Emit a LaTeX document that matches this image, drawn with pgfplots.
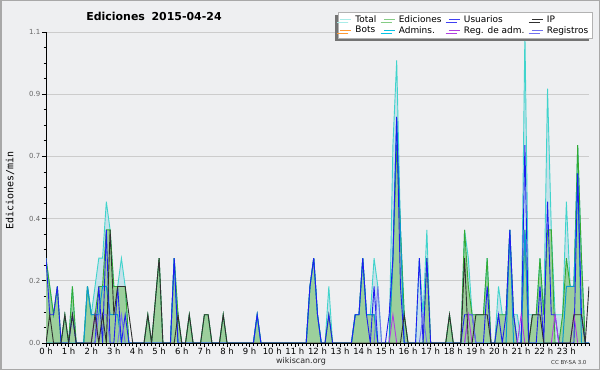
\documentclass[border=0pt]{standalone}
\usepackage{fontspec}
\setmainfont{DejaVu Sans}
\newfontfamily\monofont{DejaVu Sans Mono}
\usepackage{pgfplots}
\usepackage{pgfplotstable}
\pgfplotsset{compat=1.18}
\usetikzlibrary{shadows}
\definecolor{bg}{HTML}{EEEFF1}
\definecolor{bordercol}{HTML}{A8A8A8}
\definecolor{gridcol}{HTML}{CCCCCC}
\definecolor{totline}{HTML}{40D4CC}
\definecolor{totfill}{HTML}{C6E1EA}
\definecolor{edline}{HTML}{33AA33}
\definecolor{edfill}{HTML}{9CCF9C}
\definecolor{usline}{HTML}{1E1EF0}
\definecolor{ipline}{HTML}{303030}
\definecolor{adline}{HTML}{0A9AD0}
\definecolor{regline}{HTML}{B040E0}
\definecolor{logline}{HTML}{7070F0}
\definecolor{botline}{HTML}{FF9933}

\pgfplotstableread[row sep=\\]{
x y\\ 0 0.3\\ 1 0.2\\ 2 0.1\\ 3 0.2\\ 4 0\\ 5 0.1\\ 6 0\\ 7 0.2\\ 8 0\\ 10 0\\ 11 0.2\\ 12 0.1\\ 13 0.1\\ 14 0.2\\ 15 0.2\\ 16 0.4\\ 17 0.4\\ 18 0.2\\ 19 0.2\\ 20 0.2\\ 21 0.2\\ 22 0\\ 26 0\\ 27 0.1\\ 28 0\\ 29 0.15\\ 30 0.3\\ 31 0\\ 33 0\\ 34 0.3\\ 35 0.1\\ 36 0\\ 37 0\\ 38 0.1\\ 39 0\\ 41 0\\ 42 0.1\\ 43 0.1\\ 44 0\\ 46 0\\ 47 0.1\\ 48 0\\ 55 0\\ 56 0.1\\ 57 0\\ 69 0\\ 70 0.2\\ 71 0.3\\ 72 0.1\\ 73 0\\ 74 0\\ 75 0.1\\ 76 0\\ 81 0\\ 82 0.1\\ 83 0.1\\ 84 0.3\\ 85 0.1\\ 86 0.1\\ 87 0.1\\ 88 0\\ 91 0\\ 92 0.3\\ 93 0.7\\ 94 0.4\\ 95 0.1\\ 96 0\\ 100 0\\ 101 0.3\\ 102 0\\ 106 0\\ 107 0.1\\ 108 0\\ 110 0\\ 111 0.4\\ 112 0.2\\ 113 0.1\\ 114 0.1\\ 115 0.1\\ 116 0.1\\ 117 0.3\\ 118 0\\ 119 0\\ 120 0.1\\ 121 0.1\\ 122 0.1\\ 123 0.4\\ 124 0.1\\ 125 0\\ 126 0\\ 127 0.4\\ 128 0\\ 129 0.1\\ 130 0.1\\ 131 0.3\\ 132 0.1\\ 133 0.4\\ 134 0.4\\ 135 0\\ 136 0\\ 137 0.1\\ 138 0.3\\ 139 0.2\\ 140 0.2\\ 141 0.7\\ 142 0.3\\ 143 0\\ 144 0\\
}\Edtab

\pgfplotstableread[row sep=\\]{
x y\\ 0 0.3\\ 1 0.2\\ 2 0.1\\ 3 0.2\\ 4 0\\ 5 0.1\\ 6 0\\ 7 0.2\\ 8 0\\ 10 0\\ 11 0.2\\ 12 0.1\\ 13 0.2\\ 14 0.3\\ 15 0.3\\ 16 0.5\\ 17 0.4\\ 18 0.2\\ 19 0.2\\ 20 0.3\\ 21 0.2\\ 22 0\\ 26 0\\ 27 0.1\\ 28 0\\ 29 0.15\\ 30 0.3\\ 31 0\\ 33 0\\ 34 0.3\\ 35 0.1\\ 36 0\\ 37 0\\ 38 0.1\\ 39 0\\ 41 0\\ 42 0.1\\ 43 0.1\\ 44 0\\ 46 0\\ 47 0.1\\ 48 0\\ 55 0\\ 56 0.1\\ 57 0\\ 69 0\\ 70 0.2\\ 71 0.3\\ 72 0.1\\ 73 0\\ 74 0\\ 75 0.2\\ 76 0\\ 81 0\\ 82 0.1\\ 83 0.1\\ 84 0.3\\ 85 0.1\\ 86 0.1\\ 87 0.3\\ 88 0.2\\ 89 0\\ 91 0\\ 92 0.7\\ 93 1.0\\ 94 0.4\\ 95 0.1\\ 96 0\\ 98 0\\ 99 0.3\\ 100 0.1\\ 101 0.4\\ 102 0\\ 106 0\\ 107 0.1\\ 108 0\\ 110 0\\ 111 0.4\\ 112 0.3\\ 113 0.1\\ 114 0.1\\ 115 0.1\\ 116 0.1\\ 117 0.3\\ 118 0\\ 119 0\\ 120 0.2\\ 121 0.1\\ 122 0.1\\ 123 0.4\\ 124 0.1\\ 125 0.1\\ 126 0\\ 127 1.1\\ 128 0.1\\ 129 0.1\\ 130 0.1\\ 131 0.3\\ 132 0.1\\ 133 0.9\\ 134 0.4\\ 135 0.1\\ 136 0.1\\ 137 0.1\\ 138 0.5\\ 139 0.2\\ 140 0.2\\ 141 0.7\\ 142 0.3\\ 143 0\\ 144 0\\
}\Tottab

\begin{document}
\begin{tikzpicture}[x=1bp,y=1bp]
\useasboundingbox (0,0) rectangle (600,370);
\fill[bg] (0,0) rectangle (600,370);
\draw[bordercol, line width=1.5bp] (0.75,0.75) rectangle (599.25,369.25);
\node[font=\bfseries\fontsize{11}{13}\selectfont] at (154,354) {Ediciones\hspace{0.6em}2015-04-24};
\node[font=\fontsize{8}{9}\selectfont, text=black!85] at (301,9) {wikiscan.org};
\node[font=\fontsize{5.5}{6}\selectfont, text=black!80, anchor=east] at (590,8) {CC BY-SA 3.0};
\begin{axis}[
  at={(46bp,27bp)}, anchor=south west,
  scale only axis, width=543bp, height=311bp,
  xmin=0, xmax=144, ymin=0, ymax=1.1,
  axis x line*=bottom, axis y line*=left,
  axis line style={-, black, line width=0.8bp},
  xtick={0,6,...,138},
  xticklabels={0 h,1 h,2 h,3 h,4 h,5 h,6 h,7 h,8 h,9 h,10 h,11 h,12 h,13 h,14 h,15 h,16 h,17 h,18 h,19 h,20 h,21 h,22 h,23 h},
  minor xtick={0,1,...,144},
  ytick={0,0.22,0.44,0.66,0.88,1.1},
  yticklabels={0.0,0.2,0.4,0.7,0.9,1.1},
  minor y tick num=3,
  ymajorgrids, major grid style={gridcol, line width=0.8bp},
  tick align=outside, major tick length=4bp, minor tick length=2.5bp,
  tick style={black, line width=0.7bp},
  xticklabel style={font=\fontsize{8.5}{9}\selectfont, inner sep=1bp},
  yticklabel style={font=\fontsize{7}{8}\selectfont, text=black!60, inner sep=1.5bp},
  ylabel={Ediciones/min},
  ylabel style={font=\monofont\fontsize{10}{11}\selectfont, at={(axis description cs:-0.066,0.49)}, anchor=center},
  legend columns=4,
  legend cell align=left,
  legend image code/.code={\draw[#1, line width=1bp] (0bp,0bp) -- (11bp,0bp);},
  legend style={at={(axis description cs:1.0055,1.065)}, anchor=north east,
    draw=gray!60, fill=white, font=\fontsize{9}{9}\selectfont,
    inner sep=1.5bp, row sep=-1.5bp,
    drop shadow={shadow xshift=-3bp, shadow yshift=-3bp, fill=black!55, opacity=1},
    /tikz/every odd column/.append style={column sep=1.5bp},
    /tikz/every even column/.append style={column sep=5bp}},
]
\addlegendimage{color=totline!45}
\addlegendimage{color=edline!60}
\addlegendimage{color=usline!85}
\addlegendimage{color=ipline}
\addlegendimage{color=botline}
\addlegendimage{color=adline!60!cyan}
\addlegendimage{color=regline}
\addlegendimage{color=logline}
\legend{Total,Ediciones,Usuarios,IP,Bots,Admins.,Reg. de adm.,Registros}

\addplot[forget plot, draw=none, fill=totfill] table[x=x,y=y] {\Tottab} \closedcycle;
\addplot[forget plot, draw=none, fill=edfill] table[x=x,y=y] {\Edtab} \closedcycle;
\addplot[forget plot, color=totline, line width=0.9bp] table[x=x,y=y] {\Tottab};
\addplot[forget plot, color=edline, line width=0.9bp] table[x=x,y=y] {\Edtab};
% Admins
\addplot[forget plot, color=adline, line width=1bp] coordinates {
(0,0)(10,0)(11,0.2)(12,0.1)(13,0.1)(14,0.1)(15,0.2)(16,0.2)(17,0.1)(18,0.1)(19,0.1)(20,0)
(33,0)(34,0.3)(35,0)(55,0)(56,0.1)(57,0)
(69,0)(70,0.2)(71,0.3)(72,0.1)(73,0)
(81,0)(82,0.1)(83,0.1)(84,0.3)(85,0.1)(86,0.1)(87,0.1)(88,0)
(91,0)(92,0.3)(93,0.8)(94,0.4)(95,0)
(122,0)(123,0.4)(124,0)(126,0)(127,0.4)(128,0)
(137,0)(138,0.2)(139,0.2)(140,0.2)(141,0.6)(142,0)(144,0)};
% Usuarios
\addplot[forget plot, color=usline, line width=0.9bp] coordinates {
(0,0.3)(1,0.1)(2,0.1)(3,0.2)(4,0)(6,0)(7,0.1)(8,0)
(13,0)(14,0.2)(15,0)(16,0.4)(17,0)(18,0)(19,0.2)(20,0)(21,0.1)(22,0)
(33,0)(34,0.3)(35,0)(55,0)(56,0.1)(57,0)
(69,0)(70,0.2)(71,0.3)(72,0.1)(73,0)(74,0)(75,0.1)(76,0)
(81,0)(82,0.1)(83,0.1)(84,0.3)(85,0.1)(86,0)(87,0.2)(88,0)
(90,0)(91,0.1)(92,0.3)(93,0.8)(94,0.2)(95,0)
(98,0)(99,0.3)(100,0)(101,0.3)(102,0)
(110,0)(111,0.1)(112,0.1)(113,0.1)(114,0)(116,0)(117,0.2)(118,0)
(119,0)(120,0.1)(121,0)(122,0.1)(123,0.4)(124,0.1)(125,0)(126,0)(127,0.7)(128,0)
(130,0)(131,0.2)(132,0)(133,0.5)(134,0.1)(135,0.1)(136,0)
(140,0)(141,0.6)(142,0.1)(143,0)(144,0)};
% Registros
\addplot[forget plot, color=logline, line width=0.9bp, unbounded coords=jump] coordinates {
(13,0)(14,0.1)(15,0.1)(16,0.1)(17,0)(18,nan)
(19,0)(20,0.1)(21,0)(22,nan)
(87,0)(88,0.2)(89,0)(90,nan)
(99,0)(100,0.1)(101,0)(102,nan)
(111,0)(112,0.1)(113,0.1)(114,0)};
% Reg. de adm.
\addplot[forget plot, color=regline, line width=0.9bp, unbounded coords=jump] coordinates {
(12,0)(13,0.1)(14,0)(15,nan)
(91,0)(92,0.1)(93,0)(94,nan)
(111,0)(112,0.1)(113,0)(114,nan)
(125,0)(126,0.1)(127,0)(128,nan)
(134,0)(135,0.1)(136,0)(137,nan)
(139,0)(140,0.1)(141,0)};
% IP
\addplot[forget plot, color=ipline, line width=0.9bp] coordinates {
(0,0)(1,0.1)(2,0)(4,0)(5,0.1)(6,0)(7,0.1)(8,0)
(12,0)(13,0.1)(14,0)(15,0.1)(16,0)(17,0.4)(18,0.1)(19,0.2)(20,0.2)(21,0.2)(22,0.1)(23,0)
(26,0)(27,0.1)(28,0)(29,0.15)(30,0.3)(31,0)
(34,0)(35,0.1)(36,0)(37,0)(38,0.1)(39,0)(41,0)(42,0.1)(43,0.1)(44,0)(46,0)(47,0.1)(48,0)
(94,0)(95,0.1)(96,0)(106,0)(107,0.1)(108,0)
(110,0)(111,0.3)(112,0)(113,0)(114,0.1)(115,0.1)(116,0.1)(117,0.1)(118,0)
(128,0)(129,0.1)(130,0.1)(131,0.1)(132,0)
(139,0)(140,0.1)(141,0.1)(142,0.1)(143,0)(144,0.2)};
\draw[black, line width=0.8bp] (axis cs:0,0) -- (axis cs:144,0);
\end{axis}
\end{tikzpicture}
\end{document}
